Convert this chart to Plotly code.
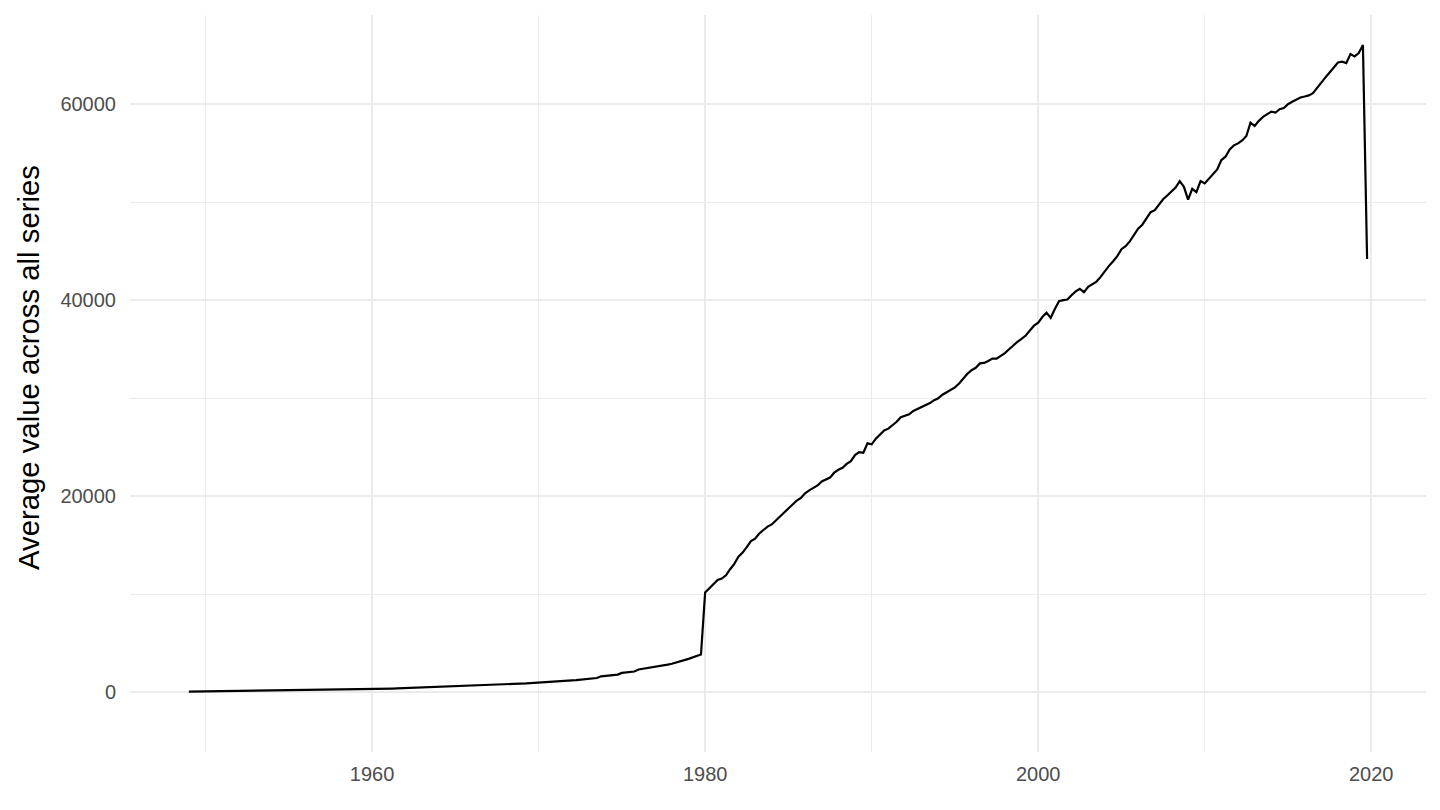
import plotly.graph_objects as go

start_year = 1949  # first quarter 1949Q1, quarterly observations

values_1949_1979 = [
    60, 65, 70, 75,
    80, 85, 90, 95,
    100, 105, 110, 115,
    120, 125, 130, 135,
    140, 145, 150, 155,
    158, 160, 165, 170,
    175, 180, 185, 190,
    198, 205, 212, 220,
    228, 235, 245, 252,
    255, 262, 270, 280,
    288, 295, 305, 315,
    325, 335, 345, 355,
    365, 375, 390, 405,
    415, 430, 445, 460,
    475, 490, 505, 520,
    540, 555, 570, 585,
    600, 615, 630, 645,
    655, 665, 680, 695,
    705, 715, 730, 745,
    760, 780, 830, 850,
    870, 900, 930, 950,
    980, 1000, 1030, 1060,
    1080, 1110, 1140, 1170,
    1200, 1230, 1260, 1300,
    1330, 1370, 1450, 1620,
    1650, 1700, 1750, 1800,
    1970, 2000, 2050, 2110,
    2320, 2380, 2450, 2520,
    2570, 2650, 2730, 2810,
    2900, 3050, 3170, 3270,
    3400, 3550, 3700, 3850,
]

values_1980_2019 = [
    10170, 10600, 11020, 11450,
    11600, 11930, 12550, 13100,
    13830, 14250, 14800, 15420,
    15660, 16200, 16550, 16900,
    17120, 17550, 17970, 18400,
    18750, 19150, 19550, 19830,
    20300, 20600, 20850, 21100,
    21500, 21700, 21900, 22400,
    22700, 22900, 23300, 23580,
    24200, 24500, 24430, 25390,
    25290, 25870, 26250, 26700,
    26890, 27200, 27600, 28050,
    28200, 28350, 28700, 28900,
    29040, 29300, 29500, 29800,
    30000, 30350, 30600, 30790,
    31100, 31500, 32000, 32500,
    32860, 33100, 33550, 33600,
    33800, 34040, 34040, 34300,
    34600, 35000, 35400, 35750,
    36050, 36400, 36900, 37400,
    37700, 38280, 38730, 38200,
    39100, 39900, 40000, 40070,
    40500, 40900, 41160, 40820,
    41360, 41600, 41900, 42380,
    43000, 43500, 43980, 44500,
    45200, 45510, 46000, 46600,
    47300, 47700, 48300, 48980,
    49180, 49800, 50300, 50680,
    51100, 51500, 52150, 51570,
    50270, 51360, 51020, 52150,
    51910, 52400, 52950, 53340,
    54300, 54640, 55390, 55800,
    56000, 56300, 56750, 58120,
    57770, 58300, 58700, 59000,
    59240, 59140, 59490, 59600,
    60000, 60240, 60500, 60680,
    60780, 60900, 61130, 61700,
    62200, 62730, 63240, 63800,
    64260, 64330, 64190, 65120,
    64880, 65220, 66040, 44200,
]

values = values_1949_1979 + values_1980_2019
dates = [start_year + i / 4 for i in range(len(values))]

x_ticks = [1960, 1980, 2000, 2020]
y_ticks = [0, 20000, 40000, 60000]
y_title = "Average value across all series"

fig = go.Figure()
fig.add_trace(go.Scatter(
    x=dates, y=values, mode="lines",
    line=dict(color="black", width=2.2),
    hoverinfo="x+y", showlegend=False,
))

xmin, xmax = min(dates), max(dates)
xpad = (xmax - xmin) * 0.05

font_family = "Liberation Sans, Arial, Helvetica, sans-serif"

fig.update_layout(
    width=1440, height=810,
    paper_bgcolor="white", plot_bgcolor="white",
    margin=dict(l=122, r=22, t=7, b=66),
    font=dict(family=font_family, color="#4D4D4D"),
    xaxis=dict(
        range=[xmin - xpad, xmax + xpad],
        tickvals=x_ticks, ticktext=[str(v) for v in x_ticks],
        showgrid=True, gridcolor="#EBEBEB", gridwidth=2,
        minor=dict(dtick=10, tick0=1950, showgrid=True, gridcolor="#EBEBEB", gridwidth=1),
        zeroline=False, showline=False, automargin=False,
        ticks="outside", ticklen=4, tickcolor="rgba(0,0,0,0)",
        tickfont=dict(size=20, color="#4D4D4D"),
    ),
    yaxis=dict(
        range=[-6100, 69100],
        tickvals=y_ticks, ticktext=[str(v) for v in y_ticks],
        showgrid=True, gridcolor="#EBEBEB", gridwidth=2,
        minor=dict(dtick=10000, tick0=0, showgrid=True, gridcolor="#EBEBEB", gridwidth=1),
        zeroline=False, showline=False, automargin=False,
        ticks="outside", ticklen=9, tickcolor="rgba(0,0,0,0)",
        tickfont=dict(size=20, color="#4D4D4D"),
    ),
    annotations=[dict(
        text=y_title, textangle=-90,
        xref="paper", yref="paper", x=-0.0787, y=0.521,
        xanchor="center", yanchor="middle", showarrow=False,
        font=dict(size=29.3, color="black"),
    )],
)

fig.write_html("out.html")
